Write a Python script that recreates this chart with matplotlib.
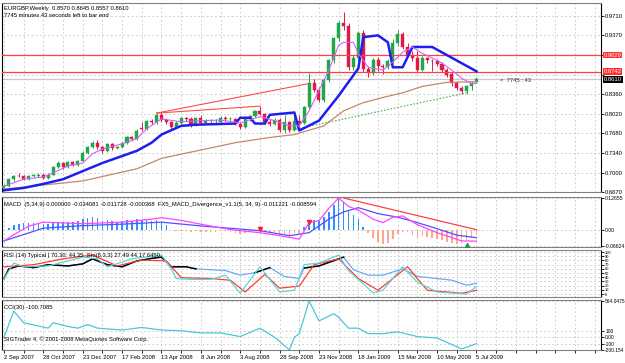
import matplotlib
matplotlib.use("Agg")
import matplotlib.pyplot as plt
import matplotlib.transforms as mtransforms
import numpy as np

W, H = 625, 363

# ---------------- data ----------------
date_labels = ["2 Sep 2007", "28 Oct 2007", "23 Dec 2007", "17 Feb 2008", "13 Apr 2008",
               "8 Jun 2008", "3 Aug 2008", "28 Sep 2008", "23 Nov 2008", "18 Jan 2009",
               "15 Mar 2009", "10 May 2009", "5 Jul 2009"]
date_pos = [0, 8, 16, 24, 32, 40, 48, 56, 64, 72, 80, 88, 96]

opens = [.674, .677, .689, .695, .694, .689, .695, .695, .697, .691, .697, .710, .717, .710, .718, .714,
         .721, .735, .745, .752, .744, .738, .749, .743, .744, .752, .761, .758, .778, .776, .789, .787,
         .800, .791, .787, .779, .786, .794, .793, .782, .795, .786, .789, .789, .788, .795, .792, .793,
         .785, .779, .794, .798, .806, .802, .788, .784, .791, .774, .787, .774, .790, .786, .813, .855,
         .843, .826, .860, .894, .932, .958, .953, .883, .898, .941, .879, .872, .894, .884, .882, .893,
         .923, .940, .917, .904, .898, .878, .898, .893, .893, .888, .877, .870, .855, .846, .841, .849,
         .8570]
highs = [.680, .691, .697, .699, .696, .697, .698, .699, .699, .699, .712, .720, .719, .720, .721, .723,
         .737, .747, .755, .757, .746, .751, .752, .747, .754, .763, .764, .775, .788, .791, .792, .803,
         .805, .795, .790, .790, .796, .797, .796, .797, .800, .792, .793, .792, .798, .798, .796, .795,
         .788, .796, .800, .808, .815, .804, .792, .794, .795, .800, .790, .803, .799, .816, .872, .862,
         .848, .863, .897, .935, .962, .978, .958, .903, .945, .946, .885, .898, .899, .888, .897, .930,
         .946, .943, .924, .910, .910, .902, .900, .896, .897, .891, .881, .874, .858, .850, .852, .858,
         .8645]
lows = [.671, .675, .686, .692, .687, .688, .692, .693, .689, .690, .696, .708, .707, .709, .712, .712,
        .720, .733, .743, .741, .735, .736, .740, .741, .742, .750, .755, .756, .772, .774, .784, .785,
        .788, .784, .776, .777, .784, .790, .779, .780, .783, .784, .786, .786, .786, .789, .789, .782,
        .776, .777, .790, .796, .800, .785, .780, .782, .771, .769, .771, .772, .783, .784, .810, .840,
        .822, .823, .857, .890, .928, .946, .878, .878, .895, .874, .865, .868, .876, .870, .879, .890,
        .918, .913, .900, .893, .874, .876, .890, .875, .885, .873, .865, .850, .842, .836, .836, .843,
        .8557]
closes = [.677, .689, .695, .694, .689, .695, .695, .696, .691, .697, .710, .717, .710, .718, .714, .721,
          .735, .745, .752, .744, .738, .749, .743, .744, .752, .761, .758, .773, .776, .789, .787, .800,
          .791, .787, .779, .786, .794, .793, .782, .795, .786, .789, .789, .790, .795, .792, .793, .785,
          .779, .794, .798, .806, .802, .788, .784, .791, .774, .787, .774, .790, .786, .813, .855, .843,
          .826, .860, .894, .932, .958, .953, .883, .898, .941, .879, .872, .894, .884, .882, .893, .923,
          .940, .917, .904, .898, .878, .898, .895, .892, .888, .877, .868, .855, .846, .841, .849, .855,
          .8610]

# main-chart indicator lines (bar index, value)
fast_ma_idx = [0, 4, 8, 10, 13, 16, 18, 20, 24, 27, 29, 32, 36, 40, 44, 48, 52, 55, 58, 60, 62, 64, 66,
               68, 69, 71, 72, 74, 77, 79, 81, 83, 85, 88, 89, 91, 93, 95, 96]
fast_ma_val = [.677, .689, .693, .700, .712, .717, .733, .741, .750, .759, .776, .793, .788, .790, .791,
               .786, .797, .790, .781, .781, .807, .842, .877, .920, .925, .925, .906, .882, .877, .891,
               .908, .917, .906, .894, .889, .877, .863, .854, .854]
slow_line_idx = [0, 4, 8, 12, 16, 20, 24, 27, 30, 32, 36, 39, 47, 48, 50, 51, 53, 54, 59, 60, 64, 68,
                 72, 73, 76, 78, 79, 81, 83, 87, 96]
slow_line_val = [.670, .674, .681, .689, .703, .717, .729, .738, .752, .766, .781, .783, .785, .795, .795,
                 .785, .785, .800, .804, .773, .790, .833, .880, .934, .937, .925, .882, .882, .917, .917,
                 .875]
long_ma_idx = [0, 16, 27, 32, 47, 54, 59, 65, 69, 73, 77, 81, 85, 90, 96]
long_ma_val = [.672, .686, .707, .725, .752, .761, .766, .781, .807, .821, .830, .838, .849, .856, .857]

trend_up_idx = [58, 94]
trend_up_val = [.773, .838]
div_a_idx = [31, 62]
div_a_val = [.803, .854]
div_b_idx = [31, 52]
div_b_val = [.803, .815]

level_red = [0.9029, 0.8742]
bid = 0.8610

main_ticks = [0.9710, 0.9370, 0.9030, 0.8690, 0.8360, 0.8020, 0.7680, 0.7340, 0.7000, 0.6670]
main_tick_labels = ["0.9710", "0.9370", "", "", "0.8360", "0.8020", "0.7680", "0.7340", "0.7000", "0.6670"]

# MACD panel
macd_hist = [0.000, 0.006, 0.018, 0.024, 0.028, 0.027, 0.025, 0.024, 0.022, 0.024, 0.029, 0.032, 0.029,
             0.032, 0.030, 0.035, 0.042, 0.048, 0.052, 0.045, 0.036, 0.039, 0.034, 0.031, 0.034, 0.039,
             0.036, 0.041, 0.038, 0.040, 0.035, 0.037, 0.030, 0.020, -0.003, -0.006, -0.005, -0.006,
             -0.011, -0.007, -0.011, -0.010, -0.009, -0.009, -0.006, -0.007, -0.009, -0.014, -0.018,
             -0.014, -0.009, -0.003, -0.004, -0.011, -0.014, -0.011, -0.018, -0.016, -0.020, -0.014,
             -0.013, 0.010, 0.034, 0.038, 0.036, 0.050, 0.072, 0.098, 0.1265, 0.112, 0.076, 0.058,
             0.042, 0.012, -0.014, -0.032, -0.048, -0.058, -0.053, -0.038, -0.017, -0.009, -0.011,
             -0.020, -0.032, -0.027, -0.030, -0.035, -0.039, -0.043, -0.048, -0.053, -0.058, -0.053,
             -0.043, -0.032, -0.022]
macd_main_idx = [0, 2, 5, 8, 16, 24, 30, 32, 36, 40, 46, 52, 56, 60, 62, 64, 66, 68, 70, 72, 75, 77,
                 79, 81, 84, 88, 93, 96]
macd_main_val = [-0.045, -0.020, 0.014, 0.030, 0.024, 0.030, 0.042, 0.048, 0.037, 0.022, 0.000, -0.012,
                 -0.024, -0.038, 0.028, 0.036, 0.085, 0.1265, 0.093, 0.078, 0.042, 0.028, 0.050, 0.055,
                 0.020, -0.012, -0.045, -0.046]
macd_sig_idx = [0, 8, 16, 24, 32, 40, 52, 58, 62, 66, 69, 72, 76, 80, 84, 88, 92, 96]
macd_sig_val = [-0.045, 0.006, 0.016, 0.022, 0.030, 0.015, -0.004, -0.024, -0.012, 0.042, 0.071, 0.088,
                0.064, 0.050, 0.028, 0.004, -0.022, -0.032]
macd_div_idx = [69, 96]
macd_div_val = [0.1265, 0.000]
arrow_dn_idx = [52, 62]
arrow_dn_val = [0.004, 0.030]
arrow_up_idx = [94]
arrow_up_val = [-0.062]
macd_min, macd_max = -0.06624, 0.12655

# RSI / Stochastic panel
rsi_idx = [0, 1, 3, 6, 9, 13, 16, 18, 21, 24, 27, 30, 32, 34, 37, 39, 42, 45, 48, 51, 54, 57, 60, 61,
           64, 69, 71, 74, 77, 81, 84, 88, 91, 94, 96]
rsi_val = [37, 60, 67, 63, 70, 67, 72, 84, 70, 65, 79, 85, 88, 65, 65, 60, 58, 56, 45, 51, 63, 42, 37,
           62, 67, 88, 58, 45, 45, 60, 42, 37, 33, 21, 26]
rsi_dark_spans = [(0, 39), (51, 54), (61, 69)]
sto_k_idx = [0, 2, 4, 9, 16, 19, 21, 26, 32, 34, 35, 38, 42, 45, 48, 52, 56, 59, 61, 64, 68, 70, 75,
             77, 81, 84, 88, 94, 96]
sto_k_val = [37, 74, 65, 67, 88, 84, 65, 84, 93, 60, 37, 35, 35, 45, 2, 65, 5, 9, 70, 74, 93, 56, 3, 9,
             65, 28, 5, 0, 18]
sto_d_idx = [0, 6, 12, 18, 23, 28, 33, 36, 42, 46, 49, 53, 56, 60, 63, 68, 72, 76, 82, 86, 93, 96]
sto_d_val = [65, 70, 84, 93, 67, 81, 79, 39, 37, 33, 5, 47, 14, 19, 70, 84, 37, 9, 65, 9, 2, 9]

# CCI panel
cci_idx = [0, 2, 4, 9, 10, 13, 15, 17, 19, 24, 28, 32, 36, 40, 44, 48, 52, 55, 58, 59, 60, 62, 64, 67,
           68, 70, 72, 74, 77, 80, 84, 88, 93, 96]
cci_val = [-2, 406, 224, 140, 224, 168, 140, 196, 140, 111, 151, 111, 100, 66, 66, 9, 140, -2, -200, -2,
           55, 564, 253, 366, 309, 140, 140, 55, 55, 83, 9, -13, -183, -101]
cci_min, cci_max = -200.154, 564.0475

# ---------------- styling ----------------
BULL = "#1FA84A"
BEAR = "#E0194A"
GRID = "#C4C4C4"
FS = 4.2
FS_R = 4.2
XL = (-0.4, 121.3)


def rect(x0, y0, x1, y1):
    return [x0 / W, 1 - y1 / H, (x1 - x0) / W, (y1 - y0) / H]


plt.rcParams["font.family"] = ["Liberation Sans", "DejaVu Sans"]
fig = plt.figure(figsize=(W / 100, H / 100), dpi=100)
fig.patch.set_facecolor("white")

ax_main = fig.add_axes(rect(2, 3, 601, 192))
ax_macd = fig.add_axes(rect(2, 197, 601, 247))
ax_rsi = fig.add_axes(rect(2, 250, 601, 297))
ax_cci = fig.add_axes(rect(2, 300, 601, 350))


def style(ax, yticks, ylabels, ylim, fs=FS_R):
    ax.set_facecolor("white")
    ax.set_xlim(*XL)
    ax.set_ylim(*ylim)
    for s in ax.spines.values():
        s.set_color("#000000")
        s.set_linewidth(0.8)
    ax.spines["top"].set_color("#808080")
    ax.spines["bottom"].set_color("#808080")
    ax.yaxis.tick_right()
    ax.set_yticks(yticks)
    ax.set_yticklabels(ylabels)
    ax.tick_params(axis="y", length=2, width=0.6, pad=1.0, labelsize=fs, colors="black")
    ax.set_xticks(np.arange(0, 124, 4))
    ax.tick_params(axis="x", length=0, labelbottom=False)
    ax.grid(True, axis="both", color=GRID, linestyle=(0, (2, 3)), linewidth=0.6)
    ax.set_axisbelow(True)


ymin_main, ymax_main = 0.6672, 0.9928
style(ax_main, main_ticks, main_tick_labels, (ymin_main, ymax_main))

idx = np.arange(len(closes))
o = np.array(opens)
c = np.array(closes)
hi = np.array(highs)
lo = np.array(lows)
cols = np.where(c >= o, BULL, BEAR)
ax_main.vlines(idx, lo, hi, colors=cols, linewidth=0.7, zorder=3)
ax_main.bar(idx, np.maximum(np.abs(c - o), 0.0009), bottom=np.minimum(o, c), width=0.62,
            color=cols, edgecolor=cols, linewidth=0.3, zorder=4)

ax_main.plot(long_ma_idx, long_ma_val, color="#C8876A", linewidth=0.9, zorder=5)
ax_main.plot(slow_line_idx, slow_line_val, color="#1E1EF0", linewidth=1.8, zorder=6)
ax_main.plot(fast_ma_idx, fast_ma_val, color="#CC66EE", linewidth=0.8, zorder=6)
ax_main.plot(trend_up_idx, trend_up_val, color="#4CAF50", linewidth=0.8, linestyle=(0, (1.5, 1.5)), zorder=5)
ax_main.plot(div_a_idx, div_a_val, color="#FF4A4A", linewidth=0.8, zorder=5)
ax_main.plot(div_b_idx, div_b_val, color="#FF4A4A", linewidth=0.8, zorder=5)
for lv in level_red:
    ax_main.axhline(lv, color="#FF4040", linewidth=0.9, zorder=5)
ax_main.axhline(bid, color="#C8C8C8", linewidth=0.9, zorder=2)

tr = mtransforms.blended_transform_factory(ax_main.transAxes, ax_main.transData)
for lv in level_red:
    ax_main.text(1.0045, lv, f"{lv:.4f}", transform=tr, fontsize=FS_R, color="white", va="center",
                 ha="left", bbox=dict(facecolor="#FF3030", edgecolor="none", pad=0.6), clip_on=False)
ax_main.text(1.0045, bid, f"{bid:.4f}", transform=tr, fontsize=FS_R, color="white", va="center",
             ha="left", bbox=dict(facecolor="#000000", edgecolor="none", pad=0.6), clip_on=False)
ax_main.text(0.832, bid - 0.0022, "<  7745 : 43", transform=tr, fontsize=FS, color="#333333",
             va="center", ha="left")

ax_main.text(0.004, 0.982, "EURGBP,Weekly  0.8570 0.8645 0.8557 0.8610", transform=ax_main.transAxes,
             fontsize=FS, va="top", ha="left")
ax_main.text(0.004, 0.945, "7745 minutes 43 seconds left to bar end", transform=ax_main.transAxes,
             fontsize=FS, va="top", ha="left")

# MACD
style(ax_macd, [macd_max, 0.0, macd_min], ["0.12655", "0.00", "-0.06624"],
      (macd_min - 0.003, macd_max + 0.004), fs=3.7)
hist = np.array(macd_hist)
ax_macd.bar(idx, hist, width=0.32, color=np.where(hist >= 0, "#2F8FFF", "#FFA58A"), zorder=3)
ax_macd.plot(macd_sig_idx, macd_sig_val, color="#5050FF", linewidth=0.9, zorder=4)
ax_macd.plot(macd_main_idx, macd_main_val, color="#FF44FF", linewidth=0.9, zorder=5)
ax_macd.plot(macd_div_idx, macd_div_val, color="#FF4040", linewidth=0.9, zorder=5)
ax_macd.plot(arrow_dn_idx, arrow_dn_val, linestyle="none", marker="v", markersize=3,
             color="#FF2040", zorder=6)
ax_macd.plot(arrow_up_idx, arrow_up_val, linestyle="none", marker="^", markersize=3,
             color="#20A040", zorder=6)
ax_macd.text(0.004, 0.90, "MACD  (5,34,9) 0.000000 -0.034081 -0.011728 -0.000368  "
             "FX5_MACD_Divergence_v1.1(5, 34, 9) -0.011221 -0.008594",
             transform=ax_macd.transAxes, fontsize=FS, va="top", ha="left")

# RSI / Stochastic
style(ax_rsi, list(range(100, -1, -10)), [str(v) for v in range(100, -1, -10)], (-7, 105), fs=2.9)
ax_rsi.plot(rsi_idx, rsi_val, color="#6FA8F0", linewidth=0.9, zorder=3)
ri = np.array(rsi_idx)
rv = np.array(rsi_val)
for a, b in rsi_dark_spans:
    m = (ri >= a) & (ri <= b)
    ax_rsi.plot(ri[m], rv[m], color="#000000", linewidth=1.1, zorder=4)
ax_rsi.plot(sto_d_idx, sto_d_val, color="#FF3B30", linewidth=0.9, zorder=5)
ax_rsi.plot(sto_k_idx, sto_k_val, color="#5CD6D6", linewidth=0.9, zorder=5)
ax_rsi.text(0.004, 0.93, "RSI (14) Typical | 70.30: 44.35  Sto(8,3,3) 27.49 44.17 6450",
            transform=ax_rsi.transAxes, fontsize=FS, va="top", ha="left", zorder=7)

# CCI
style(ax_cci, [cci_max, 100, 0, -100, cci_min], ["564.0475", "100", "0.00", "-100", "-200.154"],
      (cci_min, cci_max + 15), fs=3.5)
ax_cci.plot(cci_idx, cci_val, color="#48C8D8", linewidth=0.9, zorder=3)
ax_cci.text(0.004, 0.90, "CCI(30) -100.7085", transform=ax_cci.transAxes, fontsize=FS,
            va="top", ha="left")
ax_cci.text(0.004, 0.16, "SIGTrader 4, \u00a9 2001-2008 MetaQuotes Software Corp.",
            transform=ax_cci.transAxes, fontsize=FS, va="bottom", ha="left")

ax_cci.set_xticks(date_pos)
ax_cci.set_xticklabels(date_labels)
ax_cci.tick_params(axis="x", length=2, width=0.6, pad=1.5, labelbottom=True, labelsize=FS)
for lab in ax_cci.get_xticklabels():
    lab.set_horizontalalignment("left")
ax_cci.set_xticks(np.arange(0, 124, 4), minor=True)
ax_cci.grid(True, which="minor", axis="x", color=GRID, linestyle=(0, (2, 3)), linewidth=0.6)

fig.savefig("out.png", dpi=100, facecolor="white")
